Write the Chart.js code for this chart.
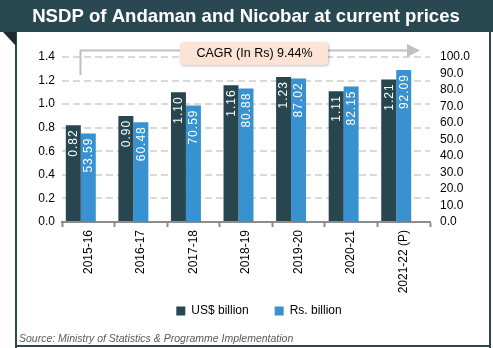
<!DOCTYPE html>
<html>
<head>
<meta charset="utf-8">
<script src="https://cdn.jsdelivr.net/npm/chart.js@4.4.0/dist/chart.umd.min.js"></script>
<style>
html,body{margin:0;padding:0;background:#fff;}
canvas{display:block;}
</style>
</head>
<body>
<canvas id="nsdp" width="493" height="348"></canvas>
<script>
// values
var years = ['2015-16','2016-17','2017-18','2018-19','2019-20','2020-21','2021-22 (P)'];
var usdBillion = [0.82, 0.90, 1.10, 1.16, 1.23, 1.11, 1.21];
var rsBillion  = [53.59, 60.48, 70.59, 80.88, 87.02, 82.15, 92.09];
var seriesNames = ['US$ billion', 'Rs. billion'];
var cagrLabel = 'CAGR (In Rs) 9.44%';
var chartTitle = 'NSDP of Andaman and Nicobar at current prices';
var sourceNote = 'Source: Ministry of Statistics & Programme Implementation';

var dark = '#27464f';
var blue = '#3891d0';
var font = 'Arial, "Liberation Sans", sans-serif';

// frame, title bar, cagr bracket and the source line
var framePlugin = {
  id: 'frame',
  afterLayout: function(chart) {
    // pull the legend up under the rotated year labels
    var lg = chart.legend;
    if (lg) { lg.top -= 19; lg.bottom -= 19; lg.left += 6; lg.right += 6; }
  },
  beforeDraw: function(chart) {
    var c = chart.ctx;
    c.save();
    c.fillStyle = '#fff';
    c.fillRect(0, 0, 493, 348);
    c.fillStyle = '#2a4852';
    c.fillRect(0, 0, 493, 32);
    c.fillRect(15, 32, 2, 316);
    c.fillRect(489, 32, 2, 316);
    c.fillRect(15, 345, 476, 2);
    c.fillStyle = '#1b2b31';
    c.beginPath();
    c.moveTo(3, 32); c.lineTo(16, 32); c.lineTo(16, 46); c.closePath();
    c.fill();
    c.fillStyle = '#fff';
    c.font = 'bold 18.6px ' + font;
    c.textAlign = 'center';
    c.textBaseline = 'middle';
    c.fillText(chartTitle, 246, 17);
    c.restore();
  },
  afterDraw: function(chart) {
    var c = chart.ctx;
    c.save();
    // bracket with arrow
    c.strokeStyle = '#c0c0c0';
    c.lineWidth = 2;
    c.beginPath();
    c.moveTo(80.5, 75); c.lineTo(80.5, 50.5); c.lineTo(409, 50.5);
    c.stroke();
    c.fillStyle = '#c0c0c0';
    c.beginPath();
    c.moveTo(407, 44); c.lineTo(420, 50.5); c.lineTo(407, 57); c.closePath();
    c.fill();
    // label box
    c.shadowColor = 'rgba(0,0,0,0.25)';
    c.shadowBlur = 3;
    c.shadowOffsetX = 1;
    c.shadowOffsetY = 1;
    c.fillStyle = '#fbe4d6';
    c.beginPath();
    c.roundRect(180, 42, 148, 23, 4);
    c.fill();
    c.shadowColor = 'transparent';
    c.fillStyle = '#000';
    c.font = '12.5px ' + font;
    c.textAlign = 'center';
    c.textBaseline = 'middle';
    c.fillText(cagrLabel, 254.5, 53.5);
    // source
    c.fillStyle = '#595959';
    c.font = 'italic 10.5px ' + font;
    c.textAlign = 'left';
    c.textBaseline = 'alphabetic';
    c.fillText(sourceNote, 19, 342);
    c.restore();
  }
};

// vertical value labels inside the top of each bar
var valueLabels = {
  id: 'valueLabels',
  afterDatasetsDraw: function(chart) {
    var c = chart.ctx;
    c.save();
    c.fillStyle = '#fff';
    c.font = '12px ' + font;
    c.letterSpacing = '1px';
    c.textAlign = 'right';
    c.textBaseline = 'middle';
    [0, 1].forEach(function(di) {
      var meta = chart.getDatasetMeta(di);
      var vals = chart.data.datasets[di].data;
      meta.data.forEach(function(bar, i) {
        c.save();
        c.translate(bar.x + 0.5, bar.y + 4);
        c.rotate(-Math.PI / 2);
        c.fillText(vals[i].toFixed(2), 0, 0);
        c.restore();
      });
    });
    c.restore();
  }
};

var config = {
  type: 'bar',
  data: {
    labels: years,
    datasets: [
      { label: seriesNames[0], data: usdBillion, backgroundColor: dark, yAxisID: 'y' },
      { label: seriesNames[1], data: rsBillion, backgroundColor: blue, yAxisID: 'y1' },
      // empty slot keeps the gap on the right of each pair
      { label: '', data: years.map(function() { return null; }), yAxisID: 'y' }
    ]
  },
  options: {
    responsive: false,
    animation: false,
    categoryPercentage: 0.855,
    barPercentage: 1,
    layout: { padding: { left: 17, right: 4, top: 57, bottom: 2 } },
    plugins: {
      title: { display: false },
      tooltip: { enabled: false },
      legend: {
        position: 'bottom',
        labels: {
          boxWidth: 9, boxHeight: 9, padding: 26,
          color: '#000',
          font: { family: font, size: 12 },
          filter: function(item) { return item.datasetIndex < 2; }
        }
      }
    },
    scales: {
      x: {
        grid: { drawOnChartArea: false, drawTicks: true, tickLength: 5, tickColor: '#8c8c8c', tickWidth: 2, offset: true },
        border: { display: true, color: '#8c8c8c', width: 2 },
        ticks: { color: '#000', font: { family: font, size: 12 }, minRotation: 90, maxRotation: 90, padding: 3, autoSkip: false },
        afterFit: function(s) { s.height = 76; }
      },
      y: {
        position: 'left',
        min: 0, max: 1.4,
        grid: { color: '#d9d9d9', lineWidth: 2, drawTicks: false, borderDash: [7, 4] },
        border: { display: false, dash: [7, 4] },
        ticks: { stepSize: 0.2, color: '#000', padding: 7, autoSkip: false, font: { family: font, size: 12 },
          callback: function(v) { return v.toFixed(1); } },
        afterFit: function(s) { s.width = 45; }
      },
      y1: {
        position: 'right',
        min: 0, max: 100,
        grid: { display: false, drawTicks: false },
        border: { display: false },
        ticks: { stepSize: 10, color: '#000', padding: 10, autoSkip: false, font: { family: font, size: 12 },
          callback: function(v) { return v.toFixed(1); } },
        afterFit: function(s) { s.width = 59; }
      }
    }
  },
  plugins: [framePlugin, valueLabels]
};

var ctx = document.getElementById('nsdp').getContext('2d');
window.nsdpChart = new Chart(ctx, config);
</script>
</body>
</html>
